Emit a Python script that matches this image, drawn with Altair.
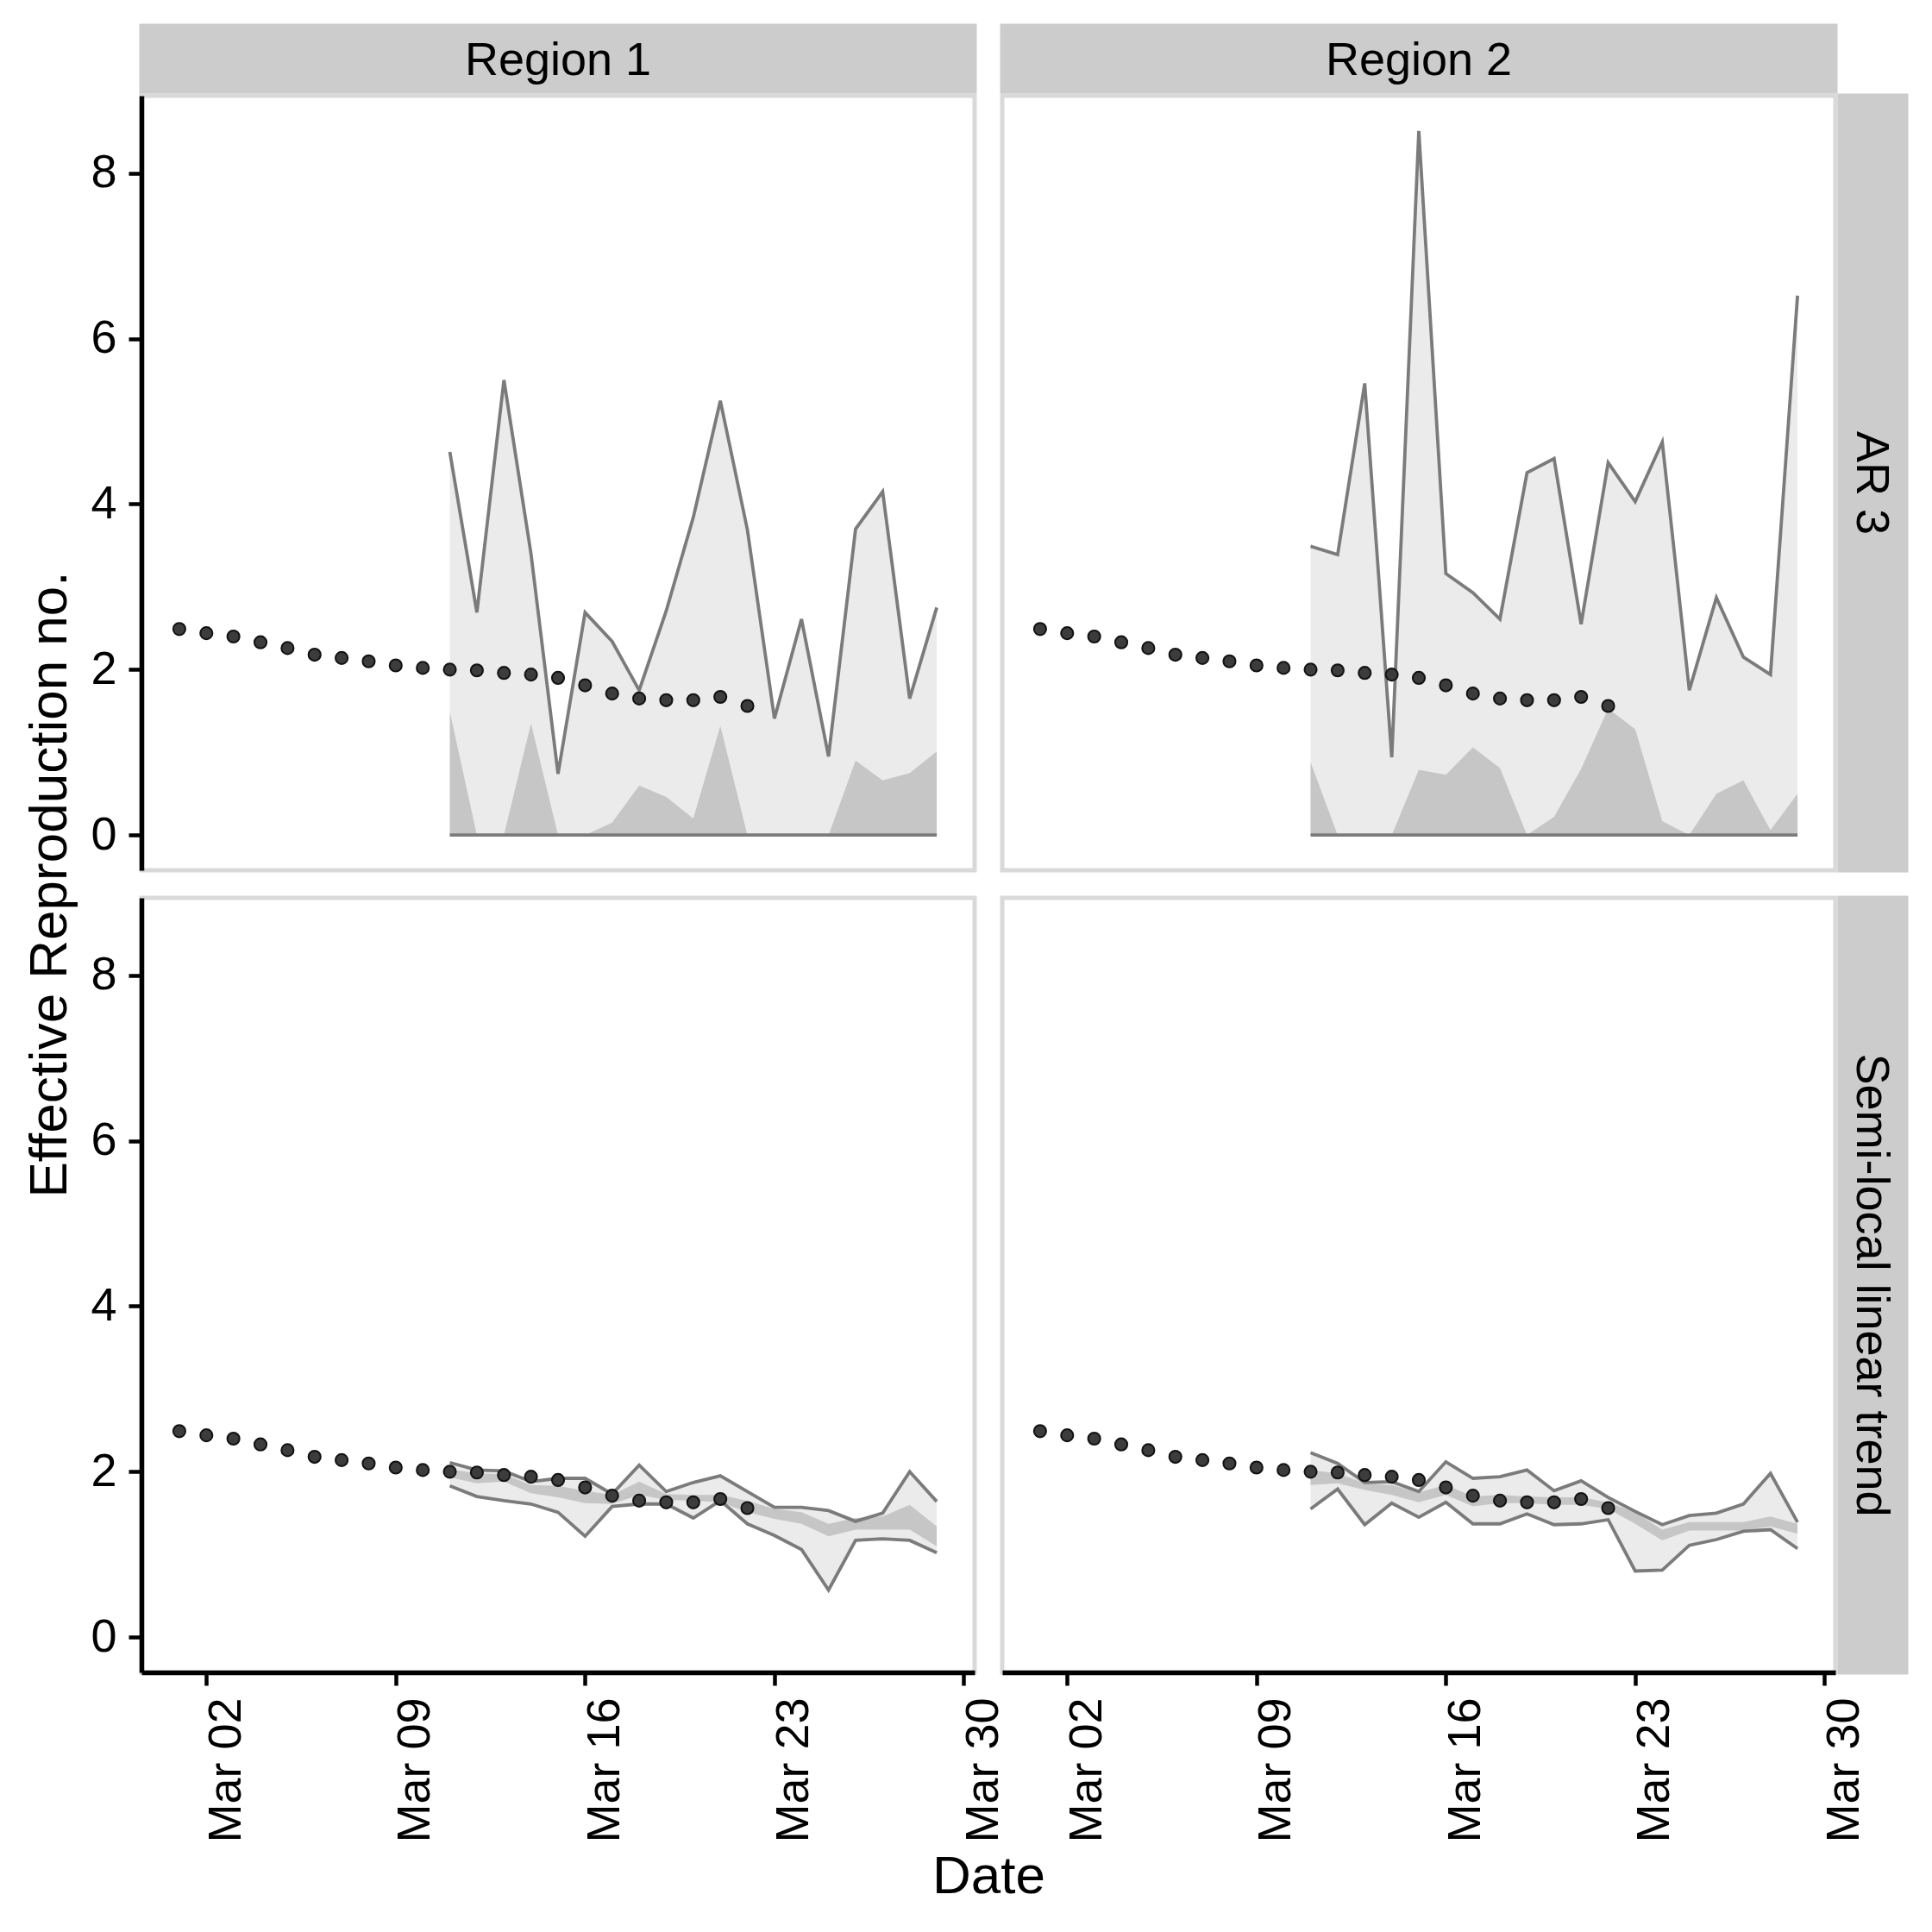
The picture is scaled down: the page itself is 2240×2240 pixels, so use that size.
import altair as alt
import pandas as pd

FONT = "Liberation Sans"

# ---------------- data ----------------
regions = ["Region 1", "Region 2"]
models = ["AR 3", "Semi-local linear trend"]

obs_dates = [f"2020-03-{d:02d}T00:00:00" for d in range(1, 23)]
fc_dates = [f"2020-03-{d:02d}T00:00:00" for d in range(11, 30)]

observed_rt = [2.49, 2.44, 2.40, 2.33, 2.26, 2.18, 2.14, 2.10, 2.05, 2.02, 2.00,
               1.99, 1.96, 1.94, 1.90, 1.81, 1.71, 1.65, 1.63, 1.63, 1.67, 1.56]

zeros = [0.0, 0.0, 0.0, 0.0, 0.0, 0.0, 0.0, 0.0, 0.0, 0.0,
         0.0, 0.0, 0.0, 0.0, 0.0, 0.0, 0.0, 0.0, 0.0]

# AR 3 - Region 1
ar3_r1_hi90 = [4.63, 2.69, 5.50, 3.40, 0.74, 2.69, 2.34, 1.75, 2.71, 3.84,
               5.25, 3.69, 1.41, 2.61, 0.95, 3.70, 4.15, 1.65, 2.75]
ar3_r1_hi50 = [1.49, 0.00, 0.00, 1.35, 0.00, 0.00, 0.15, 0.60, 0.46, 0.20,
               1.32, 0.00, 0.00, 0.00, 0.00, 0.90, 0.66, 0.75, 1.01]
# AR 3 - Region 2
ar3_r2_hi90 = [3.49, 3.39, 5.46, 0.94, 8.51, 3.16, 2.93, 2.61, 4.38, 4.55,
               2.55, 4.50, 4.03, 4.75, 1.75, 2.87, 2.15, 1.94, 6.52]
ar3_r2_hi50 = [0.88, 0.00, 0.00, 0.00, 0.79, 0.73, 1.06, 0.81, 0.00, 0.22,
               0.80, 1.53, 1.28, 0.17, 0.00, 0.50, 0.66, 0.06, 0.50]

# Semi-local linear trend - Region 1
sl_r1_hi90 = [2.11, 2.02, 2.01, 1.88, 1.92, 1.92, 1.73, 2.08, 1.76, 1.87,
              1.95, 1.76, 1.57, 1.57, 1.53, 1.40, 1.50, 2.00, 1.64]
sl_r1_lo90 = [1.83, 1.70, 1.65, 1.61, 1.51, 1.22, 1.58, 1.61, 1.61, 1.44,
              1.65, 1.37, 1.23, 1.06, 0.57, 1.17, 1.19, 1.17, 1.02]
sl_r1_hi50 = [2.03, 1.98, 1.97, 1.84, 1.83, 1.77, 1.72, 1.88, 1.73, 1.72,
              1.72, 1.65, 1.55, 1.51, 1.37, 1.44, 1.46, 1.60, 1.34]
sl_r1_lo50 = [1.93, 1.86, 1.88, 1.74, 1.69, 1.62, 1.61, 1.72, 1.66, 1.65,
              1.63, 1.51, 1.43, 1.37, 1.22, 1.30, 1.30, 1.30, 1.10]
# Semi-local linear trend - Region 2
sl_r2_hi90 = [2.23, 2.10, 1.87, 1.88, 1.76, 2.12, 1.92, 1.94, 2.02, 1.77,
              1.89, 1.69, 1.52, 1.36, 1.47, 1.50, 1.61, 1.98, 1.39]
sl_r2_lo90 = [1.55, 1.79, 1.36, 1.62, 1.45, 1.63, 1.37, 1.37, 1.49, 1.36,
              1.37, 1.42, 0.80, 0.81, 1.11, 1.18, 1.28, 1.30, 1.07]
sl_r2_hi50 = [2.02, 1.98, 1.86, 1.84, 1.75, 1.84, 1.70, 1.72, 1.70, 1.69,
              1.69, 1.63, 1.51, 1.30, 1.39, 1.39, 1.39, 1.46, 1.37]
sl_r2_lo50 = [1.84, 1.86, 1.78, 1.72, 1.63, 1.72, 1.58, 1.62, 1.62, 1.60,
              1.60, 1.55, 1.37, 1.17, 1.29, 1.29, 1.29, 1.34, 1.25]

bands = {
    ("AR 3", "Region 1"): (zeros, ar3_r1_hi90, zeros, ar3_r1_hi50),
    ("AR 3", "Region 2"): (zeros, ar3_r2_hi90, zeros, ar3_r2_hi50),
    ("Semi-local linear trend", "Region 1"): (sl_r1_lo90, sl_r1_hi90, sl_r1_lo50, sl_r1_hi50),
    ("Semi-local linear trend", "Region 2"): (sl_r2_lo90, sl_r2_hi90, sl_r2_lo50, sl_r2_hi50),
}

y_ticks = [0, 2, 4, 6, 8]
x_tick_days = [2, 9, 16, 23, 30]

# ---------------- layout / style ----------------
W, H = 966, 898
GAP = 32
STRIP_H = 81
STRIP_W = 82
OUTER = "#ebebeb"
INNER = "#c6c6c6"
LINE = "#7b7b7b"
STRIP = "#cccccc"

x_domain = [alt.DateTime(year=2020, month=2, date=28, hours=14, minutes=24),
            alt.DateTime(year=2020, month=3, date=30, hours=9, minutes=36)]
x_values = [alt.DateTime(year=2020, month=3, date=d) for d in x_tick_days]
x_scale = alt.Scale(domain=x_domain, nice=False)
y_scale = alt.Scale(domain=[-0.4255, 8.936], nice=False, zero=False)


def make_panel(model, region, row, col):
    lo90, hi90, lo50, hi50 = bands[(model, region)]
    fc = pd.DataFrame({"date": fc_dates, "lo90": lo90, "hi90": hi90,
                       "lo50": lo50, "hi50": hi50})
    ob = pd.DataFrame({"date": obs_dates, "rt": observed_rt})

    if row == 1:
        x_axis = alt.Axis(
            values=x_values, format="%b %d", labelAngle=270, labelAlign="right",
            labelBaseline="top", labelOffset=-4, labelPadding=14, labelFlush=False,
            labelOverlap=False, labelBound=False,
            title="Date" if col == 0 else None,
            titleX=(2 * W + GAP) / 2, titleY=236, titleAlign="center",
            titleBaseline="middle", titleAngle=0,
        )
    else:
        x_axis = None

    if col == 0:
        y_axis = alt.Axis(
            values=y_ticks, labelPadding=14, labelFlush=False, labelOverlap=False,
            title="Effective Reproduction no." if row == 0 else None,
            titleX=-107, titleY=(2 * H + GAP) / 2, titleAngle=270,
            titleAlign="center", titleBaseline="middle",
        )
    else:
        y_axis = None

    def X():
        return alt.X("date:T", scale=x_scale, axis=x_axis)

    def Y(field):
        return alt.Y(f"{field}:Q", scale=y_scale, axis=y_axis)

    outer = alt.Chart(fc).mark_area(color=OUTER).encode(
        x=X(), y=Y("lo90"), y2=alt.Y2("hi90:Q"))
    inner = alt.Chart(fc).mark_area(color=INNER).encode(
        x=X(), y=Y("lo50"), y2=alt.Y2("hi50:Q"))
    upper = alt.Chart(fc).mark_line(color=LINE, strokeWidth=3.8).encode(
        x=X(), y=Y("hi90"))
    lower = alt.Chart(fc).mark_line(color=LINE, strokeWidth=3.8).encode(
        x=X(), y=Y("lo90"))
    pts = alt.Chart(ob).mark_circle(
        size=200, color="#3c3c3c", opacity=1, stroke="#111111", strokeWidth=2
    ).encode(x=X(), y=Y("rt"))

    layers = [outer, inner, upper, lower, pts]

    if row == 0:
        lab = pd.DataFrame({"label": [region]})
        layers.append(alt.Chart(lab).mark_rect(color=STRIP).encode(
            x=alt.value(-2.5), x2=alt.value(W + 2.5),
            y=alt.value(-2.5 - STRIP_H), y2=alt.value(-2.5)))
        layers.append(alt.Chart(lab).mark_text(
            font=FONT, fontSize=54, color="black", align="center", baseline="middle"
        ).encode(x=alt.value(W / 2), y=alt.value(-2.5 - STRIP_H / 2 + 3),
                 text="label:N"))
    if col == 1:
        lab = pd.DataFrame({"label": [model]})
        layers.append(alt.Chart(lab).mark_rect(color=STRIP).encode(
            x=alt.value(W + 2.5), x2=alt.value(W + 2.5 + STRIP_W),
            y=alt.value(-2.5), y2=alt.value(H + 2.5)))
        layers.append(alt.Chart(lab).mark_text(
            font=FONT, fontSize=54, color="black", align="center", baseline="middle",
            angle=90
        ).encode(x=alt.value(W + 2.5 + STRIP_W / 2 - 3), y=alt.value(H / 2),
                 text="label:N"))

    return alt.layer(*layers).properties(width=W, height=H)


panels = []
for r, m in enumerate(models):
    for c, reg in enumerate(regions):
        panels.append(make_panel(m, reg, r, c))

chart = alt.concat(
    *panels, columns=2, spacing=GAP, bounds="flush"
).properties(
    padding={"left": 15, "top": 17, "right": 5, "bottom": 5},
    background="white",
).configure_view(
    stroke="#d9d9d9", strokeWidth=5
).configure_axis(
    labelFont=FONT, labelFontSize=54, labelColor="black",
    titleFont=FONT, titleFontSize=62, titleFontWeight="normal", titleColor="black",
    tickColor="black", tickWidth=4.5, tickSize=15,
    domainColor="black", domainWidth=5.5, grid=False,
)

chart.save("out.html", embed_options={"renderer": "svg", "actions": False})
